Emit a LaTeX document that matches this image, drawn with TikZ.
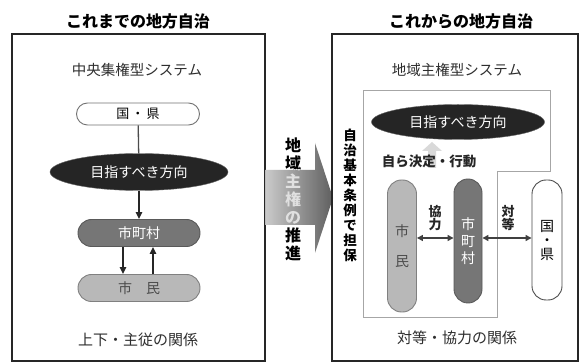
\documentclass[tikz,border=0pt]{standalone}
\usepackage{fontspec}
\setmainfont{Noto Sans CJK JP}
\usetikzlibrary{arrows.meta,shapes.misc,shapes.geometric}
\definecolor{txt}{HTML}{2E2E2E}
\definecolor{citfill}{HTML}{B8B8B8}
\definecolor{cityfill}{HTML}{767676}
\definecolor{goalfill}{HTML}{252525}
\tikzset{
  frame/.style={draw=black!85, line width=1.6pt, minimum width=#1, inner sep=0pt},
  fs/.style={font=\fontsize{#1}{#1}\selectfont},
  label/.style={text=txt, inner sep=0pt},
  titletext/.style={text=black, inner sep=0pt, font=\fontsize{16}{16}\selectfont\bfseries},
  stadium/.style={rounded rectangle, minimum width=122pt, minimum height=27pt, inner sep=0pt, line width=0.9pt},
  vstadium/.style={rectangle, rounded corners=14pt, inner sep=0pt, line width=0.9pt, align=center},
  goal/.style={ellipse, fill=goalfill, draw=black!60, text=white, inner sep=0pt, font=\fontsize{14}{14}\selectfont},
  arr/.style={line width=1.4pt, black!85, -{Triangle[length=7pt,width=6.5pt]}},
  darr/.style={line width=1.3pt, black!75, {Triangle[length=6pt,width=6pt]}-{Triangle[length=6pt,width=6pt]}},
  vtext/.style={align=center, inner sep=0pt}
}
\begin{document}
\begin{tikzpicture}[x=1pt,y=-1pt]
\useasboundingbox (0,0) rectangle (584,363);
\fill[white] (0,0) rectangle (584,363);

% ---------- left panel ----------
\node[titletext] (ltitle) at (138,21) {これまでの地方自治};
\node[frame=253pt, minimum height=327pt] (lframe) at (138.5,197.5) {};
\node[label, fs=14.5] (lsub) at (137,70) {中央集権型システム};
\node[stadium, minimum width=123pt, minimum height=22pt, draw=black!55, fill=white, fs=13, text=black] (lkoku) at (138,114) {国\,・\,県};
\node[goal, minimum width=178pt, minimum height=37pt] (lgoal) at (139,172) {目指すべき方向};
\node[stadium, draw=black!65, fill=cityfill, text=white, fs=14] (lcity) at (139,233) {市町村};
\node[stadium, draw=black!50, fill=citfill, text=black!70, fs=14] (lcit) at (139,288) {市\hspace{1em}民};
\node[label, fs=15] (lrel) at (138,340) {上下・主従の関係};

\draw[line width=1.3pt, black!70] (lkoku) -- (lgoal);
\draw[arr] (lgoal) -- (lcity);
\draw[arr] ([xshift=-16pt]lcity.south) -- ([xshift=-16pt]lcit.north);
\draw[arr] ([xshift=14pt]lcit.north) -- ([xshift=14pt]lcity.south);

% ---------- middle arrow ----------
\node[vtext, text=black, font=\fontsize{16}{18}\selectfont\bfseries] (push) at (293,199) {地\\域\\主\\権\\の\\推\\進};
\shade[left color=black!22, right color=black!68, opacity=0.92]
  (265,170) -- (315,170) -- (315,143) -- (333,198) -- (315,253) -- (315,225) -- (265,225) -- cycle;
\begin{scope}
  \clip (265,170) rectangle (315,225);
  \node[vtext, text=white!88!black, font=\fontsize{16}{18}\selectfont\bfseries] (pushw) at (293,199) {地\\域\\主\\権\\の\\推\\進};
\end{scope}

% ---------- right panel ----------
\node[titletext] (rtitle) at (461,21) {これからの地方自治};
\node[frame=246pt, minimum height=327pt] (rframe) at (455,197.5) {};
\node[label, fs=14.5] (rsub) at (457,70) {地域主権型システム};
\draw[black!35, line width=0.8pt] (363,90) -- (550,90) -- (550,171) -- (497,171) -- (497,317) -- (363,317) -- cycle;

\node[vtext, text=black, font=\fontsize{13.5}{15}\selectfont\bfseries] (jorei) at (350,195) {自\\治\\基\\本\\条\\例\\で\\担\\保};

\node[goal, minimum width=173pt, minimum height=35pt] (rgoal) at (458,122) {目指すべき方向};
\fill[black!15] (428,168) -- (428,151) -- (422,151) -- (432,142) -- (442,151) -- (436,151) -- (436,168) -- cycle;
\node[text=black!85, inner sep=0pt, font=\fontsize{13.5}{13.5}\selectfont\bfseries] (self) at (429,161) {自ら決定・行動};

\node[vstadium, minimum width=29pt, minimum height=132pt, draw=black!50, fill=citfill, text=black!70, font=\fontsize{14}{30}\selectfont] (rcit) at (402,246) {市\\民};
\node[vstadium, minimum width=28pt, minimum height=124pt, draw=black!65, fill=cityfill, text=white, font=\fontsize{14}{17}\selectfont] (rcity) at (468,241) {市\\町\\村};
\node[vstadium, minimum width=30pt, minimum height=120pt, draw=black!70, fill=white, text=black, font=\fontsize{14}{14}\selectfont] (rkoku) at (547,240) {国\\・\\県};

\node[vtext, text=black!85, font=\fontsize{13}{13}\selectfont\bfseries] (kyo) at (435,218) {協\\力};
\node[vtext, text=black!85, font=\fontsize{13}{13}\selectfont\bfseries] (taito) at (508,218) {対\\等};
\draw[darr] ([yshift=8pt]rcit.east) -- ([yshift=3pt]rcity.west);
\draw[darr] ([yshift=3pt]rcity.east) -- ([yshift=2pt]rkoku.west);

\node[label, fs=15] (rrel) at (457,338) {対等・協力の関係};
\end{tikzpicture}
\end{document}
